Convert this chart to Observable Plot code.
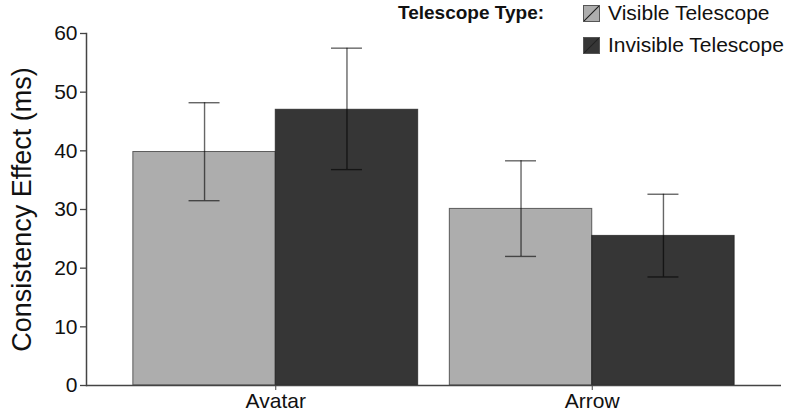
<!DOCTYPE html>
<html>
<head>
<meta charset="utf-8">
<script src="https://cdn.jsdelivr.net/npm/d3@7"></script>
<script src="https://cdn.jsdelivr.net/npm/@observablehq/plot@0.6"></script>
<style>
  body { margin: 0; background: #fff; }
  #wrap { position: relative; width: 788px; height: 412px; font-family: "Liberation Sans", Arial, Helvetica, sans-serif; color: #111; }
  #legend { position: absolute; left: 0; top: 0; width: 788px; height: 60px; pointer-events: none; }
  .ltitle { position: absolute; left: 398px; top: 2px; font-weight: bold; font-size: 19px; line-height: 22px; }
  .lrow { position: absolute; left: 583px; height: 22px; display: flex; align-items: center; }
  .sw { width: 17px; height: 17px; border: 1px solid #555; box-sizing: border-box; margin-right: 8px; }
  .ltxt { font-size: 21px; line-height: 22px; white-space: nowrap; }
</style>
</head>
<body>
<div id="wrap"><div id="chart"></div><div id="legend"></div></div>
<script>
const categories = ["Avatar", "Arrow"];
const types = ["Visible Telescope", "Invisible Telescope"];
const typeColors = ["#adadad", "#363636"];
const visibleMean = [39.8, 30.1];
const visibleLow = [31.5, 22.0];
const visibleHigh = [48.2, 38.3];
const invisibleMean = [47.0, 25.5];
const invisibleLow = [36.8, 18.5];
const invisibleHigh = [57.5, 32.6];
const yTicks = [0, 10, 20, 30, 40, 50, 60];
const yTitle = "Consistency Effect (ms)";
const legendTitle = "Telescope Type:";

const visibleRows = categories.map((c, i) => ({category: c, type: types[0], mean: visibleMean[i], low: visibleLow[i], high: visibleHigh[i]}));
const invisibleRows = categories.map((c, i) => ({category: c, type: types[1], mean: invisibleMean[i], low: invisibleLow[i], high: invisibleHigh[i]}));

const font = "Liberation Sans, Arial, Helvetica, sans-serif";
const errStyle = {stroke: "#000", strokeOpacity: 0.6, strokeWidth: 1.4};
const capHalf = 15.5;

function makePlot(bw) {
  const marks = [
    Plot.barY(visibleRows, {x: "category", y: "mean", fill: "type", stroke: "#2a2a2a", strokeOpacity: 0.7, strokeWidth: 1, insetRight: bw / 2}),
    Plot.barY(invisibleRows, {x: "category", y: "mean", fill: "type", stroke: "#1a1a1a", strokeOpacity: 0.7, strokeWidth: 1, insetLeft: bw / 2}),
  ];
  for (const [rows, off] of [[visibleRows, -bw / 4], [invisibleRows, bw / 4]]) {
    marks.push(Plot.ruleX(rows, {x: "category", y1: "low", y2: "high", dx: off, ...errStyle}));
    marks.push(Plot.tickY(rows, {x: "category", y: "low", dx: off, insetLeft: bw / 2 - capHalf, insetRight: bw / 2 - capHalf, ...errStyle}));
    marks.push(Plot.tickY(rows, {x: "category", y: "high", dx: off, insetLeft: bw / 2 - capHalf, insetRight: bw / 2 - capHalf, ...errStyle}));
  }
  marks.push(
    Plot.ruleY([0], {stroke: "#444", strokeWidth: 1.5}),
    Plot.frame({anchor: "left", stroke: "#444", strokeWidth: 1.5}),
    Plot.axisY({ticks: yTicks, tickSize: 6, tickPadding: 3, fontSize: 21, label: null, stroke: "#444", strokeWidth: 1.3, fill: "#111"}),
    Plot.axisX({tickSize: 5, tickPadding: 3, fontSize: 21, label: null, stroke: "#444", fill: "#111"}),
    Plot.text([yTitle], {frameAnchor: "left", textAnchor: "middle", dx: -64, rotate: -90, fontSize: 27, fill: "#111", text: d => d})
  );
  return Plot.plot({
    width: 788,
    height: 412,
    marginLeft: 86,
    marginRight: 7,
    marginTop: 33,
    marginBottom: 27,
    style: {fontFamily: font, background: "#fff", overflow: "visible"},
    x: {domain: categories, paddingInner: 0.1, paddingOuter: 0.148, round: false, axis: null},
    y: {domain: [0, 60], axis: null},
    color: {domain: types, range: typeColors},
    marks
  });
}

const probe = makePlot(0);
const bw = probe.scale("x").bandwidth;
document.getElementById("chart").appendChild(makePlot(bw));

const legend = document.getElementById("legend");
const t = document.createElement("div");
t.className = "ltitle";
t.textContent = legendTitle;
legend.appendChild(t);
types.forEach((name, i) => {
  const row = document.createElement("div");
  row.className = "lrow";
  row.style.top = (2 + i * 32) + "px";
  const sw = document.createElement("div");
  sw.className = "sw";
  const c = typeColors[i];
  sw.style.background = `linear-gradient(to bottom right, ${c} calc(50% - 1px), #222 50%, ${c} calc(50% + 1px))`;
  const tx = document.createElement("div");
  tx.className = "ltxt";
  tx.textContent = name;
  row.appendChild(sw);
  row.appendChild(tx);
  legend.appendChild(row);
});
</script>
</body>
</html>
